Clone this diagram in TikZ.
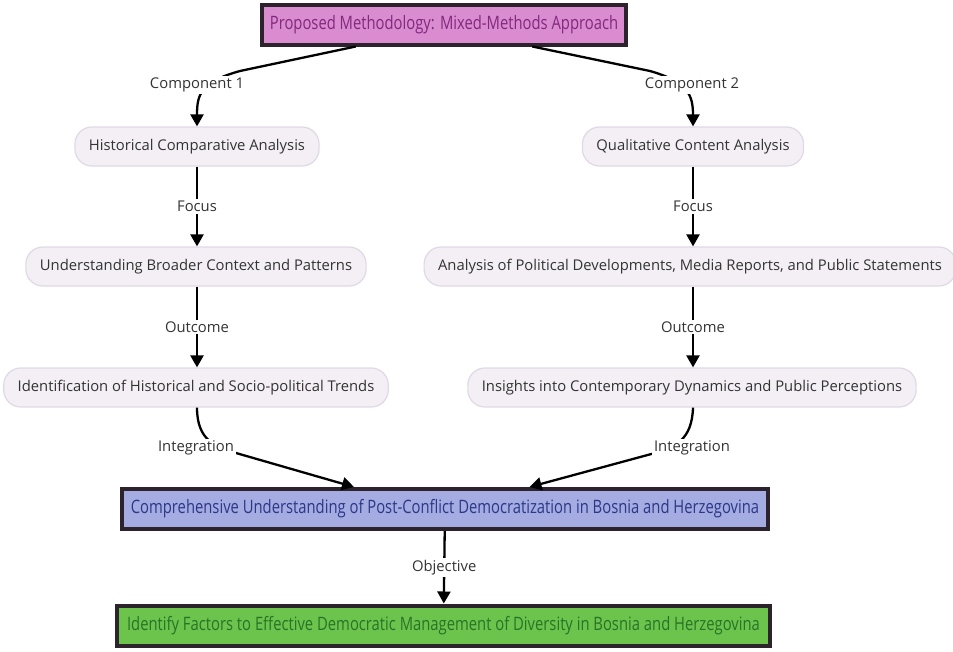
\documentclass[tikz,border=0pt]{standalone}
\usepackage{fontspec}
\setmainfont{Open Sans}
\newfontfamily\narrowfont[FakeStretch=0.8]{Open Sans}
\usetikzlibrary{calc,positioning,arrows.meta}
\definecolor{pillfill}{RGB}{243,239,245}
\definecolor{pillline}{RGB}{224,216,230}
\definecolor{textgray}{RGB}{51,51,51}
\definecolor{boxline}{RGB}{45,35,45}
\definecolor{topfill}{RGB}{218,140,208}
\definecolor{toptext}{RGB}{130,40,125}
\definecolor{midfill}{RGB}{164,172,226}
\definecolor{midtext}{RGB}{45,55,135}
\definecolor{goalfill}{RGB}{108,196,76}
\definecolor{goaltext}{RGB}{40,115,40}

\tikzset{
  pill/.style={draw=pillline,fill=pillfill,line width=1.2pt,rounded corners=17pt,
    minimum height=39pt,inner xsep=14pt,text=textgray,font=\fontsize{14.8}{16}\selectfont},
  bigbox/.style={draw=boxline,line width=4pt,minimum height=40pt,inner sep=0pt,
    font=\narrowfont\fontsize{18.5}{20}\selectfont},
  lbl/.style={fill=white,inner sep=2pt,text=textgray,font=\fontsize{14.8}{16}\selectfont},
  arr/.style={line width=2.3pt,-{Triangle[width=13pt,length=12pt]}},
}

\begin{document}
\begin{tikzpicture}[x=1pt,y=-1pt]
\useasboundingbox (0,0) rectangle (953,651);
\node[bigbox,fill=topfill,text=toptext,minimum width=364pt] (top) at (444,24.5) {Proposed Methodology: Mixed-Methods Approach};
\node[pill] (hist) at (197,146.5) {Historical Comparative Analysis};
\node[pill] (qual) at (693,146.5) {Qualitative Content Analysis};
\node[pill] (under) at (196,266.5) {Understanding Broader Context and Patterns};
\node[pill] (media) at (690,266.5) {Analysis of Political Developments, Media Reports, and Public Statements};
\node[pill] (ident) at (196,387.5) {Identification of Historical and Socio-political Trends};
\node[pill] (ins) at (692,387.5) {Insights into Contemporary Dynamics and Public Perceptions};
\node[bigbox,fill=midfill,text=midtext,minimum width=646pt] (comp) at (445,509) {Comprehensive Understanding of Post-Conflict Democratization in Bosnia and Herzegovina};
\node[bigbox,fill=goalfill,text=goaltext,minimum width=653pt] (goal) at (443.5,625.5) {Identify Factors to Effective Democratic Management of Diversity in Bosnia and Herzegovina};

\draw[arr] ($(top.south west)!.26!(top.south east)$) -- (240,71) .. controls (200,82) and (197,95) .. (hist.north);
\draw[arr] ($(top.south west)!.74!(top.south east)$) -- (650,71) .. controls (688,82) and (693,95) .. (qual.north);
\node[lbl] (c1) at (197,85) {Component 1};
\node[lbl] (c2) at (692,85) {Component 2};

\draw[arr] (hist) -- node[lbl] {Focus} (hist |- under.north);
\draw[arr] (qual) -- node[lbl] {Focus} (qual |- media.north);
\draw[arr] (hist |- under.south) -- node[lbl] {Outcome} (hist |- ident.north);
\draw[arr] (qual |- media.south) -- node[lbl] {Outcome} (qual |- ins.north);

\draw[arr] (hist |- ident.south) .. controls (197,440) and (215,447) .. (236,453) -- ($(comp.north west)!.36!(comp.north east)$);
\draw[arr] (qual |- ins.south) .. controls (692,440) and (675,447) .. (655,453) -- ($(comp.north west)!.63!(comp.north east)$);
\node[lbl] (i1) at (196,448) {Integration};
\node[lbl] (i2) at (692,448) {Integration};

\draw[arr] (comp) -- node[lbl] {Objective} (goal);
\end{tikzpicture}
\end{document}
